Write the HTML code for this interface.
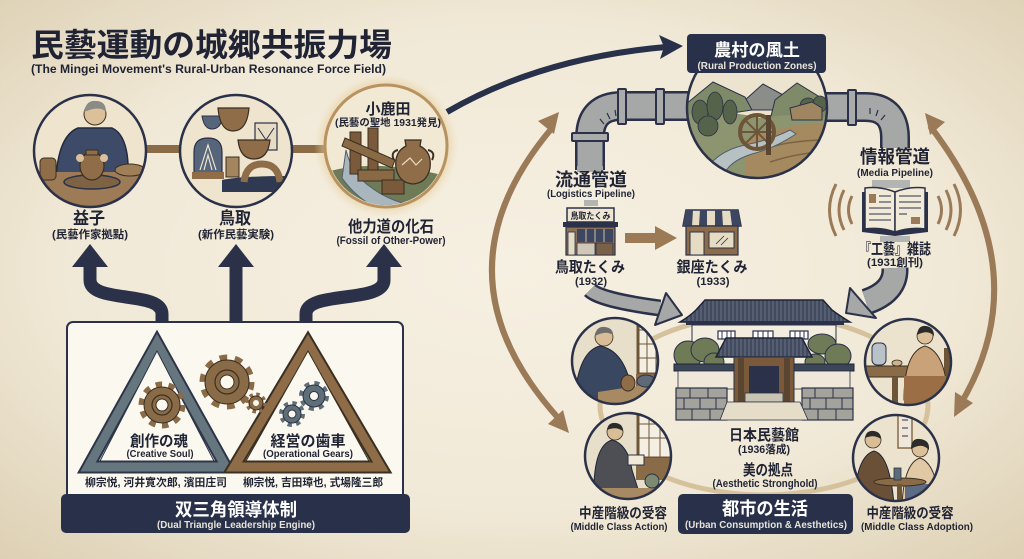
<!DOCTYPE html>
<html><head><meta charset="utf-8">
<style>
html,body{margin:0;padding:0;width:1024px;height:559px;overflow:hidden;background:#f1e9d8}
svg{display:block}
text{font-family:"Liberation Sans","Noto Sans CJK JP",sans-serif;font-weight:bold;fill:#1f2333}
</style></head><body>
<svg width="1024" height="559" viewBox="0 0 1024 559" xmlns="http://www.w3.org/2000/svg">
<defs>
<radialGradient id="bg" cx="50%" cy="48%" r="72%">
 <stop offset="0" stop-color="#f6f0e2"/>
 <stop offset="0.6" stop-color="#f1e9d7"/>
 <stop offset="1" stop-color="#ddd0b4"/>
</radialGradient>
<radialGradient id="glow" cx="50%" cy="50%" r="50%">
 <stop offset="0.78" stop-color="#e0c28a" stop-opacity="0.85"/>
 <stop offset="1" stop-color="#ecd8ac" stop-opacity="0"/>
</radialGradient>
<pattern id="roof" width="4" height="10" patternUnits="userSpaceOnUse">
 <rect width="4" height="10" fill="#414a5e"/><line x1="1" y1="0" x2="1" y2="10" stroke="#6c7487" stroke-width="1"/>
</pattern>
<clipPath id="c1"><circle cx="90" cy="151" r="55"/></clipPath>
<clipPath id="c2"><circle cx="236" cy="151" r="55"/></clipPath>
<clipPath id="c3"><circle cx="386" cy="146" r="59"/></clipPath>
<clipPath id="c4"><circle cx="757" cy="108" r="69"/></clipPath>
<clipPath id="s1"><circle cx="615" cy="361" r="42"/></clipPath>
<clipPath id="s2"><circle cx="908" cy="362" r="42"/></clipPath>
<clipPath id="s3"><circle cx="628" cy="456" r="42"/></clipPath>
<clipPath id="s4"><circle cx="896" cy="458" r="42"/></clipPath>
</defs>

<rect width="1024" height="559" fill="url(#bg)"/>

<!-- Title -->
<text x="31" y="56" font-size="32" textLength="361" lengthAdjust="spacingAndGlyphs">民藝運動の城郷共振力場</text>
<text x="31" y="73" font-size="12" textLength="355" lengthAdjust="spacingAndGlyphs">(The Mingei Movement's Rural-Urban Resonance Force Field)</text>

<!-- connectors between circles -->
<rect x="145" y="145" width="37" height="8" fill="#8c6b47"/>
<rect x="290" y="145" width="37" height="8" fill="#8c6b47"/>

<!-- Circle 1 益子 -->
<circle cx="90" cy="151" r="56" fill="#efe5cf"/>
<g clip-path="url(#c1)">
 <rect x="30" y="90" width="120" height="125" fill="#efe5cf"/>
 <path d="M56 180 Q58 136 78 128 L112 128 Q130 136 128 180 Z" fill="#3d4b68" stroke="#232a3c" stroke-width="1.5"/>
 <circle cx="95" cy="114" r="11" fill="#dcc09a" stroke="#3a2f22" stroke-width="1"/>
 <path d="M84 112 Q86 100 96 101 Q106 101 106 112 Q100 105 84 112 Z" fill="#8a8a86"/>
 <rect x="30" y="172" width="120" height="45" fill="#9c7b56"/>
 <ellipse cx="92" cy="182" rx="28" ry="7" fill="#7d6244" stroke="#2b3148" stroke-width="1.5"/>
 <ellipse cx="92" cy="166" rx="12" ry="14" fill="#8f6d48" stroke="#3a2f22" stroke-width="1.2"/>
 <rect x="86" y="150" width="12" height="5" fill="#8f6d48" stroke="#3a2f22" stroke-width="1"/>
 <circle cx="80" cy="158" r="4" fill="#dcc09a"/><circle cx="104" cy="158" r="4" fill="#dcc09a"/>
 <rect x="40" y="158" width="16" height="22" rx="4" fill="#8f6d48" stroke="#3a2f22" stroke-width="1"/>
 <ellipse cx="130" cy="170" rx="15" ry="6" fill="#a07f58" stroke="#3a2f22" stroke-width="1"/>
</g>
<circle cx="90" cy="151" r="56" fill="none" stroke="#2b3148" stroke-width="2.5"/>

<!-- Circle 2 鳥取 -->
<circle cx="236" cy="151" r="56" fill="#efe5cf"/>
<g clip-path="url(#c2)">
 <path d="M202 116 L223 116 Q221 129 212 129 Q204 129 202 116 Z" fill="#56657a" stroke="#2b3148" stroke-width="1"/>
 <path d="M218 108 L249 108 Q247 131 233 131 Q220 131 218 108 Z" fill="#8f6d48" stroke="#3a2f22" stroke-width="1.2"/>
 <rect x="255" y="123" width="22" height="27" fill="#e7dcc4" stroke="#2b3148" stroke-width="1.2"/>
 <path d="M258 128 L266 140 L274 128" fill="none" stroke="#2b3148" stroke-width="1"/>
 <path d="M238 140 L270 140 Q268 159 254 159 Q240 159 238 140 Z" fill="#8f6d48" stroke="#3a2f22" stroke-width="1.2"/>
 <path d="M194 175 L194 152 Q194 138 208 138 Q222 138 222 152 L222 175 Z" fill="#56657a" stroke="#2b3148" stroke-width="1.2"/>
 <path d="M200 170 L208 145 L216 170 M204 170 L208 155 L212 170" fill="none" stroke="#efe5cf" stroke-width="1.2"/>
 <rect x="192" y="172" width="32" height="7" fill="#8f6d48"/>
 <rect x="226" y="157" width="13" height="20" fill="#a4865e" stroke="#3a2f22" stroke-width="1"/>
 <path d="M222 192 L222 180 Q240 176 290 176 L290 192 Z" fill="#2f3a52"/>
 <path d="M244 182 Q246 164 262 164 Q278 164 280 182" fill="none" stroke="#8f6d48" stroke-width="7"/>
</g>
<circle cx="236" cy="151" r="56" fill="none" stroke="#2b3148" stroke-width="2.5"/>

<!-- Circle 3 小鹿田 -->
<circle cx="386" cy="146" r="72" fill="url(#glow)"/>
<circle cx="386" cy="146" r="61" fill="#f2e9d5" stroke="#b8935f" stroke-width="3"/>
<g clip-path="url(#c3)">
 <path d="M326 172 Q375 158 446 176 L446 210 L326 210 Z" fill="#6f7a56"/>
 <path d="M346 150 Q352 175 372 188 Q388 200 410 205 L380 210 Q356 198 342 178 Z" fill="#a9b6bd" stroke="#4f5e6e" stroke-width="1"/>
 <rect x="350" y="132" width="11" height="42" fill="#7a5a3a" stroke="#3a2f22" stroke-width="1"/>
 <rect x="368" y="128" width="10" height="44" fill="#7a5a3a" stroke="#3a2f22" stroke-width="1"/>
 <path d="M345 138 L395 160 L392 168 L342 146 Z" fill="#8a6a45" stroke="#3a2f22" stroke-width="1"/>
 <rect x="358" y="170" width="36" height="11" fill="#8a6a45" stroke="#3a2f22" stroke-width="1"/>
 <rect x="382" y="180" width="22" height="14" fill="#7a5a3a" stroke="#3a2f22" stroke-width="1"/>
 <path d="M405 140 L421 140 L420 146 Q432 152 430 168 Q427 183 413 184 Q399 183 396 168 Q394 152 406 146 Z" fill="#8f6d48" stroke="#3a2f22" stroke-width="1.3"/>
 <path d="M398 150 Q390 152 394 160 M428 150 Q436 152 432 160" fill="none" stroke="#3a2f22" stroke-width="2"/>
 <path d="M402 165 L410 158 L416 165 L422 159" fill="none" stroke="#e8dcc4" stroke-width="1.2"/>
</g>
<text x="388" y="114" font-size="15" text-anchor="middle" textLength="45" lengthAdjust="spacingAndGlyphs">小鹿田</text>
<text x="388" y="126" font-size="10" text-anchor="middle" textLength="106" lengthAdjust="spacingAndGlyphs">(民藝の聖地 1931発見)</text>

<!-- Left labels -->
<text x="89" y="224" font-size="17" text-anchor="middle" textLength="32" lengthAdjust="spacingAndGlyphs">益子</text>
<text x="90" y="238" font-size="11" text-anchor="middle" textLength="76" lengthAdjust="spacingAndGlyphs">(民藝作家拠點)</text>
<text x="235" y="224" font-size="17" text-anchor="middle" textLength="32" lengthAdjust="spacingAndGlyphs">鳥取</text>
<text x="236" y="238" font-size="11" text-anchor="middle" textLength="76" lengthAdjust="spacingAndGlyphs">(新作民藝実験)</text>
<text x="391" y="232" font-size="16" text-anchor="middle" textLength="86" lengthAdjust="spacingAndGlyphs">他力道の化石</text>
<text x="391" y="244" font-size="11" text-anchor="middle" textLength="109" lengthAdjust="spacingAndGlyphs">(Fossil of Other-Power)</text>

<!-- Navy arrows up -->
<g fill="none" stroke="#2b3148" stroke-width="13">
 <path d="M162 326 L162 314 C162 290 90 304 90 280 L90 262"/>
 <path d="M236 326 L236 262"/>
 <path d="M306 326 L306 314 C306 290 384 304 384 280 L384 262"/>
</g>
<g fill="#2b3148">
 <polygon points="90,244 108,267 72,267"/>
 <polygon points="236,244 254,267 218,267"/>
 <polygon points="384,244 402,267 366,267"/>
</g>

<!-- Dual triangle box -->
<rect x="67" y="322" width="336" height="178" rx="6" fill="#fbf8ef" stroke="#2b3148" stroke-width="2"/>
<polygon points="157,343 88,467 226,467" fill="#fbf8f0" stroke="#2d3548" stroke-width="13" stroke-linejoin="miter"/>
<polygon points="157,343 88,467 226,467" fill="none" stroke="#66767e" stroke-width="9"/>
<polygon points="157,351 100,461 214,461" fill="#fbf8f0" stroke="#2d3548" stroke-width="1"/>
<polygon points="308,343 234,467 381,467" fill="#fbf8f0" stroke="#3a2f22" stroke-width="13"/>
<polygon points="308,343 234,467 381,467" fill="none" stroke="#8e6c48" stroke-width="9"/>
<polygon points="308,351 246,461 369,461" fill="#fbf8f0" stroke="#3a2f22" stroke-width="1"/>

<!-- gears -->
<g>
 <circle cx="227" cy="382" r="24" fill="none" stroke="#8a6b48" stroke-width="7" stroke-dasharray="7.54 7.54"/>
 <circle cx="227" cy="382" r="22" fill="#8a6b48" stroke="#3a2f22" stroke-width="1"/>
 <circle cx="227" cy="382" r="12" fill="none" stroke="#3a2f22" stroke-width="1.2"/>
 <circle cx="227" cy="382" r="7" fill="#fbf8ef" stroke="#3a2f22" stroke-width="1"/>
 <circle cx="256" cy="403" r="8" fill="none" stroke="#8a6b48" stroke-width="5" stroke-dasharray="3.14 3.14"/>
 <circle cx="256" cy="403" r="7" fill="#8a6b48" stroke="#3a2f22" stroke-width="1"/>
 <circle cx="256" cy="403" r="3" fill="#fbf8ef"/>
 <circle cx="162" cy="405" r="20" fill="none" stroke="#8a6b48" stroke-width="7" stroke-dasharray="6.28 6.28"/>
 <circle cx="162" cy="405" r="18" fill="#8a6b48" stroke="#3a2f22" stroke-width="1"/>
 <circle cx="162" cy="405" r="10" fill="none" stroke="#3a2f22" stroke-width="1.2"/>
 <circle cx="162" cy="405" r="6" fill="#fbf8ef" stroke="#3a2f22" stroke-width="1"/>
 <circle cx="314" cy="396" r="12" fill="none" stroke="#5f6f78" stroke-width="6" stroke-dasharray="4.71 4.71"/>
 <circle cx="314" cy="396" r="11" fill="#5f6f78" stroke="#2b3148" stroke-width="1"/>
 <circle cx="314" cy="396" r="4.5" fill="#fbf8ef" stroke="#2b3148" stroke-width="1"/>
 <circle cx="292" cy="414" r="10" fill="none" stroke="#5f6f78" stroke-width="6" stroke-dasharray="3.93 3.93"/>
 <circle cx="292" cy="414" r="9" fill="#5f6f78" stroke="#2b3148" stroke-width="1"/>
 <circle cx="292" cy="414" r="4" fill="#fbf8ef" stroke="#2b3148" stroke-width="1"/>
</g>
<text x="159" y="446" font-size="15" text-anchor="middle" textLength="58" lengthAdjust="spacingAndGlyphs">創作の魂</text>
<text x="160" y="457" font-size="10.5" text-anchor="middle" textLength="67" lengthAdjust="spacingAndGlyphs">(Creative Soul)</text>
<text x="308" y="446" font-size="15" text-anchor="middle" textLength="75" lengthAdjust="spacingAndGlyphs">経営の歯車</text>
<text x="308" y="457" font-size="10.5" text-anchor="middle" textLength="90" lengthAdjust="spacingAndGlyphs">(Operational Gears)</text>
<text x="156" y="486" font-size="11" text-anchor="middle" textLength="142" lengthAdjust="spacingAndGlyphs">柳宗悦, 河井寛次郎, 濱田庄司</text>
<text x="313" y="486" font-size="11" text-anchor="middle" textLength="140" lengthAdjust="spacingAndGlyphs">柳宗悦, 吉田璋也, 式場隆三郎</text>
<rect x="61" y="494" width="349" height="39" rx="5" fill="#283149"/>
<text x="236" y="516" font-size="18" text-anchor="middle" textLength="122" lengthAdjust="spacingAndGlyphs" style="fill:#ffffff">双三角領導体制</text>
<text x="236" y="528" font-size="10.5" text-anchor="middle" textLength="158" lengthAdjust="spacingAndGlyphs" style="fill:#e8e4da">(Dual Triangle Leadership Engine)</text>

<!-- ===== Right side ===== -->
<!-- brown arcs -->
<g fill="none" stroke="#9a7a57" stroke-width="6">
 <path d="M552 128 Q428 275 560 420"/>
 <path d="M930 126 Q1041 270 960 405"/>
</g>
<g fill="#9a7a57">
 <polygon points="559,112 554,134 538,121"/>
 <polygon points="569,433 563,410 548,424"/>
 <polygon points="925,113 945,122 930,135"/>
 <polygon points="954,417 973,403 955,392"/>
</g>

<!-- navy curve arrow -->
<path d="M447 112 Q540 58 666 47" fill="none" stroke="#283149" stroke-width="6"/>
<polygon points="683,46 660,59 664,47 659,35" fill="#283149"/>

<!-- pipes -->
<g fill="none">
 <path d="M692 106 L622 106 Q590 106 590 138 L590 170" stroke="#2b3148" stroke-width="30"/>
 <path d="M692 106 L622 106 Q590 106 590 138 L590 170" stroke="#a5a8a7" stroke-width="25"/>
 <path d="M822 107 L865 107 Q895 107 895 138 L895 148" stroke="#2b3148" stroke-width="30"/>
 <path d="M822 107 L865 107 Q895 107 895 138 L895 148" stroke="#a5a8a7" stroke-width="25"/>
</g>
<rect x="577" y="166" width="26" height="6" fill="#a5a8a7"/>
<g fill="#a9acab" stroke="#2b3148" stroke-width="2">
 <rect x="618" y="89" width="8" height="35" rx="1"/>
 <rect x="656" y="89" width="8" height="35" rx="1"/>
 <rect x="572" y="133" width="36" height="8" rx="1"/>
 <rect x="848" y="90" width="8" height="35" rx="1"/>
</g>
<path d="M604 124 l-4 -5 M610 119 l-3 -6 M616 116 l-1 -6 M881 120 l4 -5 M876 116 l2 -6 M870 114 l0 -6" stroke="#2b3148" stroke-width="1.2"/>
<rect x="872" y="180" width="38" height="8" fill="#b3b5b3"/>
<rect x="584" y="200" width="14" height="6" fill="#b3b5b3"/>

<!-- landscape circle -->
<circle cx="757" cy="108" r="70" fill="#ece4cf"/>
<g clip-path="url(#c4)">
 <path d="M745 100 L763 84 L785 96 L790 110 L740 110 Z" fill="#8a8d88" stroke="#2b3148" stroke-width="1"/>
 <path d="M686 104 L713 82 L745 97 L752 110 L686 120 Z" fill="#7f8b68" stroke="#2b3148" stroke-width="1"/>
 <path d="M775 100 L797 83 L828 102 L828 120 L770 120 Z" fill="#7f8b68" stroke="#2b3148" stroke-width="1"/>
 <path d="M686 115 Q720 108 760 118 Q800 112 828 118 L828 180 L686 180 Z" fill="#8c9470"/>
 <g fill="#55634a" stroke="#2b3148" stroke-width="0.8">
  <ellipse cx="700" cy="112" rx="8" ry="12"/><ellipse cx="715" cy="106" rx="8" ry="14"/>
  <ellipse cx="730" cy="112" rx="7" ry="12"/><ellipse cx="708" cy="126" rx="10" ry="10"/>
  <ellipse cx="808" cy="106" rx="8" ry="8"/><ellipse cx="820" cy="104" rx="7" ry="8"/>
 </g>
 <path d="M790 108 L812 102 L822 108 L822 120 L792 120 Z" fill="#a08660" stroke="#2b3148" stroke-width="1"/>
 <path d="M745 140 Q790 122 828 124 L828 180 L745 180 Z" fill="#a58a60"/>
 <path d="M760 150 Q790 140 828 140 M770 162 Q800 152 828 152" stroke="#7a6444" stroke-width="1.5" fill="none"/>
 <path d="M700 180 Q712 152 745 145 Q770 140 790 130 L796 134 Q775 148 752 154 Q726 162 722 180 Z" fill="#b7c0c2" stroke="#4f5e6e" stroke-width="1"/>
 <circle cx="757" cy="132" r="17" fill="none" stroke="#6d5538" stroke-width="4"/>
 <path d="M757 115 L757 149 M740 132 L774 132 M745 120 L769 144 M769 120 L745 144" stroke="#6d5538" stroke-width="2"/>
 <rect x="766" y="115" width="5" height="40" fill="#5a4530"/>
</g>
<circle cx="757" cy="108" r="70" fill="none" stroke="#2b3148" stroke-width="2.5"/>
<rect x="687" y="34" width="139" height="39" rx="4" fill="#283149"/>
<text x="757" y="56" font-size="17" text-anchor="middle" textLength="86" lengthAdjust="spacingAndGlyphs" style="fill:#ffffff">農村の風土</text>
<text x="757" y="69" font-size="10.5" text-anchor="middle" textLength="119" lengthAdjust="spacingAndGlyphs" style="fill:#e8e4da">(Rural Production Zones)</text>

<!-- pipeline labels -->
<text x="591" y="186" font-size="18" text-anchor="middle" textLength="72" lengthAdjust="spacingAndGlyphs">流通管道</text>
<text x="591" y="197" font-size="10.5" text-anchor="middle" textLength="88" lengthAdjust="spacingAndGlyphs">(Logistics Pipeline)</text>
<text x="895" y="163" font-size="18" text-anchor="middle" textLength="70" lengthAdjust="spacingAndGlyphs">情報管道</text>
<text x="895" y="176" font-size="10.5" text-anchor="middle" textLength="76" lengthAdjust="spacingAndGlyphs">(Media Pipeline)</text>

<!-- Tottori shop -->
<rect x="567" y="208" width="47" height="14" fill="#efe6d2" stroke="#2b3148" stroke-width="1.5"/>
<text x="590.5" y="219" font-size="9" text-anchor="middle" textLength="40" lengthAdjust="spacingAndGlyphs">鳥取たくみ</text>
<rect x="563" y="222" width="55" height="5" fill="#2b3148"/>
<rect x="566" y="227" width="49" height="28" fill="#8a7055" stroke="#2b3148" stroke-width="1.2"/>
<rect x="577" y="229" width="36" height="13" fill="#3d4660"/>
<path d="M586 229 V242 M595 229 V242 M604 229 V242" stroke="#c9c0ad" stroke-width="1"/>
<rect x="577" y="243" width="18" height="12" fill="#cfc8b8" stroke="#2b3148" stroke-width="0.8"/>
<rect x="596" y="243" width="17" height="12" fill="#7a6048" stroke="#2b3148" stroke-width="0.8"/>
<rect x="568" y="232" width="7" height="23" fill="#e6dcc4" stroke="#2b3148" stroke-width="0.8"/>
<!-- arrow between shops -->
<polygon points="625,233 655,233 655,226 677,238 655,250 655,243 625,243" fill="#9b7a55"/>
<!-- Ginza shop -->
<path d="M683 226 L686 210 L738 210 L741 226 Z" fill="#e6dcc4" stroke="#2b3148" stroke-width="1.5"/>
<g fill="#3d4660"><path d="M686 210 L693 210 L692 226 L683 226 Z"/><path d="M700 210 L707 210 L707 226 L699 226 Z"/><path d="M715 210 L722 210 L723 226 L715 226 Z"/><path d="M730 210 L738 210 L741 226 L732 226 Z"/></g>
<rect x="686" y="226" width="52" height="29" fill="#8c6b48" stroke="#2b3148" stroke-width="1.2"/>
<rect x="690" y="232" width="14" height="23" fill="#e6dcc4" stroke="#2b3148" stroke-width="1"/>
<rect x="709" y="232" width="25" height="16" fill="#e6dcc4" stroke="#2b3148" stroke-width="1"/>
<path d="M716 244 L724 236 M721 245 L728 238" stroke="#2b3148" stroke-width="0.8"/>
<text x="590" y="272" font-size="15" text-anchor="middle" textLength="70" lengthAdjust="spacingAndGlyphs">鳥取たくみ</text>
<text x="591" y="285" font-size="11" text-anchor="middle" textLength="32" lengthAdjust="spacingAndGlyphs">(1932)</text>
<text x="712" y="272" font-size="15" text-anchor="middle" textLength="71" lengthAdjust="spacingAndGlyphs">銀座たくみ</text>
<text x="713" y="285" font-size="11" text-anchor="middle" textLength="33" lengthAdjust="spacingAndGlyphs">(1933)</text>

<!-- Book -->
<g fill="none" stroke="#9a7a57" stroke-width="3">
 <path d="M852 196 Q845 210 852 224"/><path d="M844 190 Q834 210 844 230"/><path d="M836 184 Q823 210 836 236"/>
 <path d="M938 196 Q945 210 938 224"/><path d="M946 190 Q956 210 946 230"/><path d="M954 184 Q967 210 954 236"/>
</g>
<path d="M862 192 L862 232 L895 236 L928 232 L928 192" fill="#2b3148"/>
<path d="M865 188 Q880 186 895 192 L895 232 Q880 227 865 229 Z" fill="#f2ead8" stroke="#2b3148" stroke-width="1.5"/>
<path d="M925 188 Q910 186 895 192 L895 232 Q910 227 925 229 Z" fill="#f2ead8" stroke="#2b3148" stroke-width="1.5"/>
<rect x="869" y="194" width="7" height="9" fill="#9a7a57"/>
<rect x="911" y="217" width="9" height="7" fill="#9a7a57"/>
<path d="M879 196 H891 M879 202 H891 M869 208 H891 M869 214 H891 M869 220 H891 M899 196 H921 M899 202 H921 M899 208 H921 M899 214 H907" stroke="#2b3148" stroke-width="1"/>
<rect x="880" y="236" width="30" height="6" fill="#b3b5b3"/>
<text x="895" y="254" font-size="15" text-anchor="middle" textLength="72" lengthAdjust="spacingAndGlyphs">『工藝』雑誌</text>
<text x="895" y="266" font-size="11" text-anchor="middle" textLength="56" lengthAdjust="spacingAndGlyphs">(1931創刊)</text>

<!-- gray arrows into museum -->
<g>
 <path d="M590 290 Q600 300 660 308" fill="none" stroke="#2b3148" stroke-width="17"/>
 <path d="M590 290 Q600 300 660 308" fill="none" stroke="#a5a8a7" stroke-width="12"/>
 <polygon points="682,315 666,293 655,325" fill="#a5a8a7" stroke="#2b3148" stroke-width="2" stroke-linejoin="round"/>
 <path d="M895 268 Q896 292 866 302" fill="none" stroke="#2b3148" stroke-width="27"/>
 <path d="M895 268 Q896 292 866 302" fill="none" stroke="#a5a8a7" stroke-width="22"/>
 <polygon points="846,313 850,288 876,318" fill="#a5a8a7" stroke="#2b3148" stroke-width="2" stroke-linejoin="round"/>
</g>

<!-- ring -->
<ellipse cx="764" cy="405" rx="164" ry="90" fill="none" stroke="#d5c29c" stroke-width="5"/>

<!-- Museum -->
<g>
 <path d="M680 322 Q690 316 696 310 L705 300 L823 300 L832 310 Q840 316 850 322 Z" fill="url(#roof)" stroke="#1f2535" stroke-width="1.5"/>
 <rect x="686" y="321" width="158" height="4" fill="#2b3148"/>
 <rect x="692" y="325" width="144" height="42" fill="#f3ede0" stroke="#2b3148" stroke-width="1"/>
 <g fill="#fff" stroke="#2b3148" stroke-width="1.2">
  <rect x="718" y="331" width="17" height="8"/><rect x="753" y="331" width="20" height="8"/><rect x="790" y="331" width="18" height="8"/>
 </g>
 <path d="M722 331V339M727 331V339M731 331V339M758 331V339M763 331V339M768 331V339M795 331V339M800 331V339M804 331V339" stroke="#2b3148" stroke-width="1"/>
 <g fill="#6f7a56" stroke="#2b3148" stroke-width="1">
  <ellipse cx="688" cy="355" rx="14" ry="14"/><ellipse cx="705" cy="350" rx="14" ry="12"/><ellipse cx="714" cy="362" rx="10" ry="9"/>
  <ellipse cx="822" cy="344" rx="14" ry="10"/><ellipse cx="838" cy="356" rx="13" ry="12"/><ellipse cx="815" cy="362" rx="10" ry="8"/>
 </g>
 <rect x="674" y="364" width="180" height="7" fill="#3d4558" stroke="#1f2535" stroke-width="1"/>
 <rect x="678" y="371" width="172" height="18" fill="#efe8da" stroke="#2b3148" stroke-width="0.8"/>
 <path d="M726 338 L802 338 L812 357 L716 357 Z" fill="url(#roof)" stroke="#1f2535" stroke-width="1.5"/>
 <rect x="734" y="357" width="60" height="45" fill="#7a5a3a" stroke="#2b3148" stroke-width="1"/>
 <rect x="749" y="366" width="30" height="27" fill="#2b3148"/>
 <rect x="738" y="357" width="6" height="45" fill="#5a4530"/><rect x="784" y="357" width="6" height="45" fill="#5a4530"/>
 <rect x="745" y="393" width="38" height="9" fill="#c9c3b4" stroke="#2b3148" stroke-width="0.8"/>
 <rect x="676" y="388" width="51" height="32" fill="#a3a39c" stroke="#2b3148" stroke-width="1.2"/>
 <rect x="802" y="388" width="51" height="32" fill="#a3a39c" stroke="#2b3148" stroke-width="1.2"/>
 <path d="M676 398H727M676 409H727M690 388V398M708 388V398M684 398V409M700 398V409M716 398V409M692 409V420M710 409V420M802 398H853M802 409H853M815 388V398M833 388V398M810 398V409M826 398V409M842 398V409M818 409V420M836 409V420" stroke="#2b3148" stroke-width="1"/>
 <path d="M727 402 L800 402 L808 420 L720 420 Z" fill="#e6ddc9" stroke="#2b3148" stroke-width="0.8"/>
</g>

<!-- small circles -->
<!-- TL -->
<circle cx="615" cy="361" r="43" fill="#e8dfca"/>
<g clip-path="url(#s1)">
 <rect x="638" y="316" width="26" height="58" fill="#f4efe2" stroke="#6d5538" stroke-width="3"/>
 <path d="M638 330H664M638 344H664M638 358H664M647 316V374M656 316V374" stroke="#6d5538" stroke-width="1"/>
 <rect x="636" y="374" width="34" height="14" fill="#8a6b48"/>
 <path d="M574 410 Q576 352 600 346 Q622 350 630 382 L632 410 Z" fill="#3a4760" stroke="#1f2535" stroke-width="1"/>
 <circle cx="604" cy="337" r="9" fill="#d8bd96" stroke="#3a2f22" stroke-width="0.8"/>
 <path d="M595 336 Q596 326 605 327 Q613 328 613 335 Q606 330 595 336 Z" fill="#6e6e6a"/>
 <path d="M598 392 L662 382 L662 410 L598 410 Z" fill="#a88a62"/>
 <ellipse cx="628" cy="383" rx="7" ry="8" fill="#8f6d48" stroke="#3a2f22" stroke-width="1"/>
 <ellipse cx="646" cy="381" rx="9" ry="6" fill="#5d6b78" stroke="#2b3148" stroke-width="1"/>
</g>
<circle cx="615" cy="361" r="43" fill="none" stroke="#2b3148" stroke-width="2.5"/>
<!-- TR -->
<circle cx="908" cy="362" r="43" fill="#ece3cf"/>
<g clip-path="url(#s2)">
 <rect x="862" y="366" width="58" height="11" fill="#8a6b48" stroke="#3a2f22" stroke-width="1"/>
 <rect x="892" y="377" width="6" height="30" fill="#6d5538"/>
 <rect x="872" y="343" width="14" height="22" rx="5" fill="#b8c2c8" stroke="#2b3148" stroke-width="1"/>
 <ellipse cx="897" cy="363" rx="5" ry="3" fill="#c9b48e" stroke="#3a2f22" stroke-width="0.8"/>
 <rect x="944" y="348" width="9" height="60" fill="#6d5538"/>
 <path d="M904 400 Q904 352 925 346 Q946 352 948 400 Z" fill="#c9a27a" stroke="#3a2f22" stroke-width="1"/>
 <rect x="904" y="376" width="42" height="32" fill="#9b6e45"/>
 <circle cx="925" cy="336" r="8" fill="#dcc09a" stroke="#3a2f22" stroke-width="0.8"/>
 <path d="M917 335 Q918 325 926 326 Q934 327 934 336 Q928 329 917 335 Z" fill="#2b2b2b"/>
 <circle cx="930" cy="322" r="4" fill="#2b2b2b"/>
</g>
<circle cx="908" cy="362" r="43" fill="none" stroke="#2b3148" stroke-width="2.5"/>
<!-- BL -->
<circle cx="628" cy="456" r="43" fill="#e8dfca"/>
<g clip-path="url(#s3)">
 <rect x="638" y="410" width="34" height="48" fill="#f4efe2" stroke="#6d5538" stroke-width="3"/>
 <path d="M638 424H672M638 438H672M649 410V458M660 410V458" stroke="#6d5538" stroke-width="1"/>
 <rect x="636" y="458" width="40" height="22" fill="#8a6b48"/>
 <path d="M594 502 Q592 446 612 440 Q628 444 632 470 L642 502 Z" fill="#4d4f55" stroke="#1f2535" stroke-width="1"/>
 <circle cx="615" cy="432" r="8" fill="#d8bd96" stroke="#3a2f22" stroke-width="0.8"/>
 <path d="M607 430 Q608 422 616 423 Q623 424 623 431 Q616 426 607 430 Z" fill="#2b2b2b"/>
 <rect x="628" y="455" width="16" height="10" fill="#f2ead8" stroke="#2b3148" stroke-width="1"/>
 <rect x="584" y="488" width="92" height="16" fill="#a88a62"/>
 <circle cx="652" cy="481" r="7" fill="#7d8a70" stroke="#2b3148" stroke-width="1"/>
</g>
<circle cx="628" cy="456" r="43" fill="none" stroke="#2b3148" stroke-width="2.5"/>
<!-- BR -->
<circle cx="896" cy="458" r="43" fill="#ece3cf"/>
<g clip-path="url(#s4)">
 <rect x="898" y="414" width="14" height="34" fill="#efe8da" stroke="#8a6b48" stroke-width="1.5"/>
 <path d="M902 420H908M902 428H908M902 436H908" stroke="#2b3148" stroke-width="1"/>
 <path d="M854 505 Q856 456 874 451 Q890 455 894 505 Z" fill="#6b5038" stroke="#1f2535" stroke-width="1"/>
 <circle cx="873" cy="440" r="8" fill="#d8bd96" stroke="#3a2f22" stroke-width="0.8"/>
 <path d="M865 438 Q866 430 874 431 Q881 432 881 439 Q874 434 865 438 Z" fill="#2b2b2b"/>
 <path d="M902 505 Q904 463 920 458 Q936 463 940 505 Z" fill="#e2c9a5" stroke="#3a2f22" stroke-width="1"/>
 <circle cx="920" cy="449" r="8" fill="#dcc09a" stroke="#3a2f22" stroke-width="0.8"/>
 <path d="M911 449 Q911 438 920 439 Q930 440 929 450 Q922 442 911 449 Z" fill="#2b2b2b"/>
 <rect x="905" y="484" width="32" height="20" fill="#5d6b84"/>
 <ellipse cx="900" cy="482" rx="26" ry="4" fill="#8a6b48" stroke="#3a2f22" stroke-width="1"/>
 <rect x="897" y="484" width="5" height="20" fill="#6d5538"/>
 <rect x="894" y="468" width="7" height="12" fill="#5d6b78" stroke="#2b3148" stroke-width="0.8"/>
</g>
<circle cx="896" cy="458" r="43" fill="none" stroke="#2b3148" stroke-width="2.5"/>

<!-- center labels -->
<text x="764" y="440" font-size="15" text-anchor="middle" textLength="70" lengthAdjust="spacingAndGlyphs">日本民藝館</text>
<text x="764" y="453" font-size="11" text-anchor="middle" textLength="52" lengthAdjust="spacingAndGlyphs">(1936落成)</text>
<text x="768" y="475" font-size="15" text-anchor="middle" textLength="50" lengthAdjust="spacingAndGlyphs">美の拠点</text>
<text x="765" y="487" font-size="11" text-anchor="middle" textLength="105" lengthAdjust="spacingAndGlyphs">(Aesthetic Stronghold)</text>

<rect x="678" y="494" width="175" height="40" rx="5" fill="#283149"/>
<text x="765" y="515" font-size="18" text-anchor="middle" textLength="86" lengthAdjust="spacingAndGlyphs" style="fill:#ffffff">都市の生活</text>
<text x="766" y="528" font-size="10.5" text-anchor="middle" textLength="162" lengthAdjust="spacingAndGlyphs" style="fill:#e8e4da">(Urban Consumption &amp; Aesthetics)</text>

<text x="623" y="518" font-size="14" text-anchor="middle" textLength="88" lengthAdjust="spacingAndGlyphs">中産階級の受容</text>
<text x="619" y="530" font-size="10.5" text-anchor="middle" textLength="97" lengthAdjust="spacingAndGlyphs">(Middle Class Action)</text>
<text x="910" y="518" font-size="14" text-anchor="middle" textLength="87" lengthAdjust="spacingAndGlyphs">中産階級の受容</text>
<text x="917" y="530" font-size="10.5" text-anchor="middle" textLength="112" lengthAdjust="spacingAndGlyphs">(Middle Class Adoption)</text>
</svg>
</body></html>
